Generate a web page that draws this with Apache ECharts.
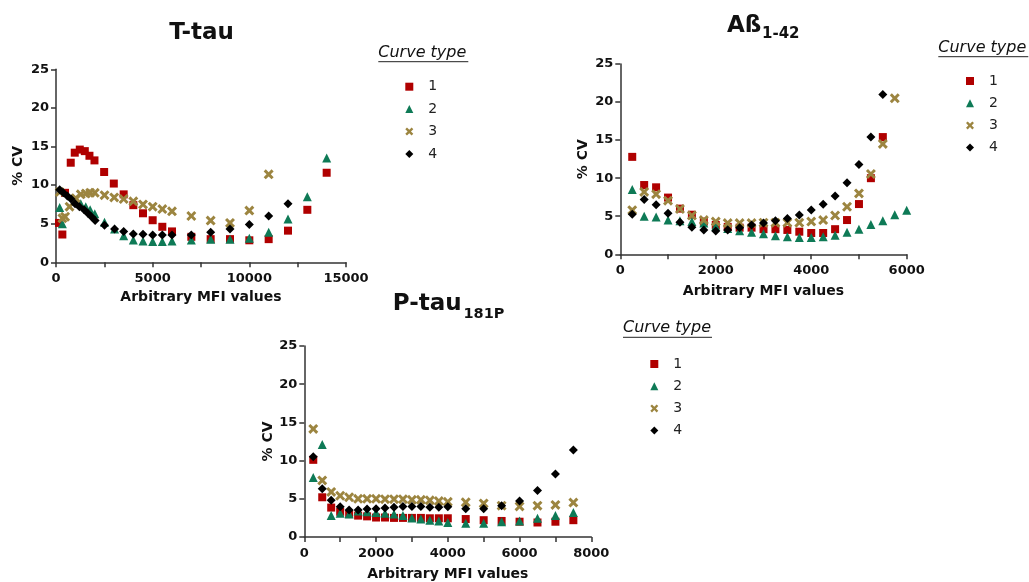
<!DOCTYPE html>
<html>
<head>
<meta charset="utf-8">
<script src="https://cdn.jsdelivr.net/npm/echarts@6/dist/echarts.min.js"></script>
<style>html,body{margin:0;padding:0;background:#fff}#chart{width:1029px;height:582px}</style>
</head>
<body>
<div id="chart"></div>
<script>
// ---------- DATA ----------
const seriesNames = ['1', '2', '3', '4'];

// T-tau
const ttX1 = [156, 329, 467, 762, 970, 1230, 1490, 1730, 1990, 2490, 2990, 3500, 4000, 4500, 5000, 5500, 6000, 7000, 8000, 9000, 10000, 11000, 12000, 13000, 14000];
const ttY1 = [5.1, 3.6, 9.0, 12.9, 14.2, 14.6, 14.4, 13.8, 13.2, 11.7, 10.2, 8.8, 7.4, 6.35, 5.45, 4.6, 4.0, 3.3, 3.0, 3.0, 2.85, 3.0, 4.1, 6.8, 11.6];
const ttX2 = [190, 329, 1020, 1280, 1540, 1765, 2006, 2510, 3030, 3500, 4000, 4500, 5000, 5500, 6000, 7000, 8000, 9000, 10000, 11000, 12000, 13000, 14000];
const ttY2 = [7.1, 5.0, 7.9, 7.6, 7.2, 6.8, 6.3, 5.2, 4.3, 3.45, 2.9, 2.76, 2.68, 2.68, 2.76, 2.9, 3.0, 3.0, 3.1, 3.9, 5.6, 8.5, 13.5];
const ttX3 = [190, 330, 470, 700, 1020, 1280, 1540, 1765, 2006, 2510, 3010, 3500, 4000, 4500, 5000, 5500, 6000, 7000, 8000, 9000, 10000, 11000];
const ttY3 = [9.1, 5.7, 5.9, 7.2, 8.3, 8.8, 8.9, 9.0, 9.0, 8.7, 8.4, 8.2, 7.9, 7.5, 7.2, 6.9, 6.6, 6.0, 5.4, 5.1, 6.7, 11.4];
const ttX4 = [190, 380, 590, 780, 985, 1210, 1455, 1645, 1835, 2025, 2510, 3030, 3500, 4000, 4500, 5000, 5500, 6000, 7000, 8000, 9000, 10000, 11000, 12000];
const ttY4 = [9.4, 9.0, 8.6, 8.2, 7.6, 7.2, 6.8, 6.35, 5.9, 5.4, 4.8, 4.3, 4.0, 3.67, 3.63, 3.54, 3.54, 3.54, 3.55, 3.9, 4.3, 4.9, 6.0, 7.6];

// Abeta 1-42
const abX = [250, 500, 750, 1000, 1250, 1500, 1750, 2000, 2250, 2500, 2750, 3000, 3250, 3500, 3750, 4000, 4250, 4500, 4750, 5000, 5250, 5500, 5750, 6000];
const abY1 = [12.8, 9.1, 8.8, 7.45, 6.0, 5.2, 4.3, 3.85, 3.6, 3.5, 3.5, 3.3, 3.3, 3.2, 2.97, 2.8, 2.8, 3.3, 4.5, 6.6, 10.0, 15.4, null, null];
const abY2 = [8.5, 5.0, 4.9, 4.5, 4.4, 4.3, 4.1, 3.7, 3.4, 3.1, 2.9, 2.7, 2.45, 2.3, 2.2, 2.2, 2.3, 2.5, 2.9, 3.3, 3.9, 4.4, 5.2, 5.8];
const abY3 = [5.8, 8.2, 7.9, 7.05, 5.95, 5.1, 4.5, 4.3, 4.1, 4.1, 4.1, 4.15, 4.15, 4.15, 4.15, 4.3, 4.5, 5.1, 6.25, 8.0, 10.55, 14.5, 20.5, null];
const abY4 = [5.25, 7.2, 6.5, 5.4, 4.2, 3.55, 3.2, 3.06, 3.2, 3.5, 3.85, 4.1, 4.4, 4.7, 5.16, 5.82, 6.57, 7.66, 9.4, 11.8, 15.4, 21.0, null, null];

// P-tau 181P
const ptX = [250, 500, 750, 1000, 1250, 1500, 1750, 2000, 2250, 2500, 2750, 3000, 3250, 3500, 3750, 4000, 4500, 5000, 5500, 6000, 6500, 7000, 7500];
const ptY1 = [10.1, 5.2, 3.85, 3.3, 3.0, 2.8, 2.7, 2.55, 2.55, 2.5, 2.5, 2.5, 2.5, 2.45, 2.45, 2.45, 2.35, 2.2, 2.1, 2.0, 1.9, 2.0, 2.2];
const ptY2 = [7.8, 12.1, 2.8, 3.1, 3.0, 3.4, 3.3, 3.2, 3.1, 3.0, 2.8, 2.5, 2.35, 2.2, 2.1, 1.9, 1.8, 1.8, 2.0, 2.1, 2.45, 2.8, 3.2];
const ptY3 = [14.15, 7.4, 5.9, 5.4, 5.2, 5.0, 5.0, 5.0, 4.95, 4.95, 4.95, 4.86, 4.86, 4.8, 4.7, 4.6, 4.55, 4.4, 4.1, 4.0, 4.1, 4.2, 4.5];
const ptY4 = [10.5, 6.3, 4.8, 3.95, 3.55, 3.55, 3.65, 3.7, 3.8, 3.9, 4.0, 4.0, 4.0, 3.9, 3.9, 3.95, 3.7, 3.7, 4.1, 4.7, 6.1, 8.25, 11.4];

const yTicks = [0, 5, 10, 15, 20, 25];

// ---------- STYLE ----------
const FONT = 'DejaVu Sans';
const colors = ['#b00000', '#0e7a56', '#9c8540', '#000000'];
const crossPath = 'path://M0,2.1 L2.1,0 L5,2.9 L7.9,0 L10,2.1 L7.1,5 L10,7.9 L7.9,10 L5,7.1 L2.1,10 L0,7.9 L2.9,5 Z';
const symbols = ['rect', 'triangle', crossPath, 'diamond'];
const sizes = [8, 9, 10, 9];

function pairs(xs, ys) { return xs.map((x, i) => [x, ys[i]]); }

const plots = [
  { xs: [ttX1, ttX2, ttX3, ttX4], ys: [ttY1, ttY2, ttY3, ttY4], max: 15000, interval: 5000,
    grid: { left: 56, top: 69.3, width: 290, height: 193 }, nameGapX: 28, nameGapY: 31 },
  { xs: [abX, abX, abX, abX], ys: [abY1, abY2, abY3, abY4], max: 6000, interval: 2000,
    grid: { left: 620.3, top: 64, width: 286.4, height: 190.3 }, nameGapX: 30, nameGapY: 30 },
  { xs: [ptX, ptX, ptX, ptX], ys: [ptY1, ptY2, ptY3, ptY4], max: 8000, interval: 2000,
    grid: { left: 304.3, top: 346, width: 287, height: 192 }, nameGapX: 30, nameGapY: 29 }
];

const axisLineStyle = { color: '#333', width: 1.5 };
const labelStyle = { fontFamily: FONT, fontWeight: 'bold', fontSize: 13, color: '#111', formatter: v => String(v) };
const nameStyle = { fontFamily: FONT, fontWeight: 'bold', fontSize: 14, color: '#111' };

const grids = [], xAxes = [], yAxes = [], series = [];
plots.forEach((p, gi) => {
  grids.push(Object.assign({ containLabel: false }, p.grid));
  xAxes.push({
    gridIndex: gi, type: 'value', min: 0, max: p.max, interval: p.interval,
    name: 'Arbitrary MFI values', nameLocation: 'middle', nameGap: p.nameGapX, nameTextStyle: nameStyle,
    axisLine: { onZero: false, lineStyle: axisLineStyle },
    axisTick: { show: true, length: 5, lineStyle: axisLineStyle },
    minorTick: { show: true, splitNumber: 2, length: 5, lineStyle: axisLineStyle },
    splitLine: { show: false }, minorSplitLine: { show: false },
    axisLabel: Object.assign({ margin: 10 }, labelStyle)
  });
  yAxes.push({
    gridIndex: gi, type: 'value', min: yTicks[0], max: yTicks[yTicks.length - 1], interval: yTicks[1] - yTicks[0],
    name: '% CV', nameLocation: 'middle', nameRotate: 90, nameGap: p.nameGapY, nameTextStyle: nameStyle,
    axisLine: { show: true, onZero: false, lineStyle: axisLineStyle },
    axisTick: { show: true, length: 5, lineStyle: axisLineStyle },
    splitLine: { show: false },
    axisLabel: Object.assign({ margin: 7 }, labelStyle)
  });
  for (let s = 0; s < 4; s++) {
    series.push({
      name: seriesNames[s], type: 'scatter', xAxisIndex: gi, yAxisIndex: gi,
      symbol: symbols[s], symbolSize: sizes[s],
      itemStyle: { color: colors[s], opacity: 1 },
      data: pairs(p.xs[s], p.ys[s]),
      emphasis: { disabled: true }, animation: false, z: 2 + s
    });
  }
});

const legendBase = {
  orient: 'vertical', data: seriesNames, itemWidth: 8, itemHeight: 8, itemGap: 8.4,
  textStyle: { fontFamily: FONT, fontSize: 14, color: '#222', lineHeight: 14, padding: [0, 0, 0, 10] },
  selectedMode: false
};
const legends = [
  Object.assign({}, legendBase, { left: 400.3, top: 74.7 }),
  Object.assign({}, legendBase, { left: 961, top: 69, itemGap: 8.2 }),
  Object.assign({}, legendBase, { left: 645.3, top: 352, itemGap: 8.2 })
];

function txt(text, x, y, font, align) {
  return { type: 'text', x: x, y: y, silent: true,
    style: { text: text, font: font, fill: '#111', align: align || 'left', verticalAlign: 'middle' } };
}
function uline(x1, x2, y) {
  return { type: 'line', silent: true, shape: { x1: x1, y1: y, x2: x2, y2: y }, style: { stroke: '#222', lineWidth: 1 } };
}
const titleFont = 'bold 23px "DejaVu Sans"';
const subFont = 'bold 15px "DejaVu Sans"';
const hdrFont = 'italic 16px "DejaVu Sans"';

const graphics = [
  txt('T-tau', 201.5, 33, titleFont, 'center'),
  txt('Aß', 727, 26, titleFont),
  txt('1-42', 762, 34, subFont),
  txt('P-tau', 392.7, 304, titleFont),
  txt('181P', 463.5, 314, 'bold 14.5px "DejaVu Sans"'),
  txt('Curve type', 378.3, 52.5, hdrFont), uline(378.3, 468.3, 61.7),
  txt('Curve type', 938.3, 47.5, hdrFont), uline(938.3, 1028.3, 56.7),
  txt('Curve type', 623, 328, hdrFont), uline(623, 712, 337.3)
];

const chart = echarts.init(document.getElementById('chart'), null, { renderer: 'canvas' });
chart.setOption({
  backgroundColor: '#ffffff',
  animation: false,
  grid: grids, xAxis: xAxes, yAxis: yAxes, series: series,
  legend: legends,
  graphic: graphics
});
</script>
</body>
</html>
